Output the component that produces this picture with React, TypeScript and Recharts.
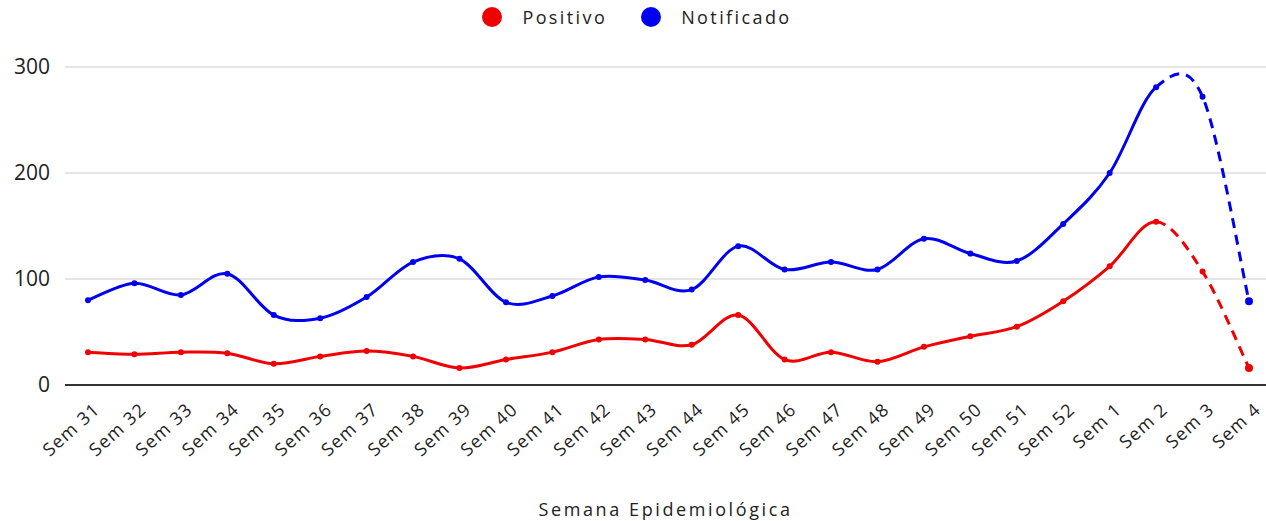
import { LineChart, Line, XAxis, YAxis, CartesianGrid, Legend } from "recharts"

// Semanas epidemiológicas (Sem 31 -> Sem 4)
const weeks = [
  "Sem 31", "Sem 32", "Sem 33", "Sem 34", "Sem 35", "Sem 36", "Sem 37", "Sem 38", "Sem 39",
  "Sem 40", "Sem 41", "Sem 42", "Sem 43", "Sem 44", "Sem 45", "Sem 46", "Sem 47", "Sem 48",
  "Sem 49", "Sem 50", "Sem 51", "Sem 52", "Sem 1", "Sem 2", "Sem 3", "Sem 4",
]
const positivo = [31, 29, 31, 30, 20, 27, 32, 27, 16, 24, 31, 43, 43, 38, 66, 24, 31, 22, 36, 46, 55, 79, 112, 154, 107, 16]
const notificado = [80, 96, 85, 105, 66, 63, 83, 116, 119, 78, 84, 102, 99, 90, 131, 109, 116, 109, 138, 124, 117, 152, 200, 281, 272, 79]
const yTicks = [0, 100, 200, 300]

// a partir desta semana a linha fica tracejada (dados incompletos)
const LAST_SOLID = weeks.indexOf("Sem 2")

const RED = "#f00000"
const BLUE = "#0000f0"
const FONT = "'Open Sans', 'Noto Sans', sans-serif"

// solid part keeps one extra point after the break, dashed part one extra before,
// those points only steer the curve tangent (like d3 catmullRomOpen)
const data = weeks.map((week, i) => ({
  week,
  positivoSolid: i <= LAST_SOLID + 1 ? positivo[i] : null,
  positivoDash: i >= LAST_SOLID - 1 ? positivo[i] : null,
  notificadoSolid: i <= LAST_SOLID + 1 ? notificado[i] : null,
  notificadoDash: i >= LAST_SOLID - 1 ? notificado[i] : null,
}))

// Catmull-Rom style curve, similar to Google Charts curveType "function"
function smoothCurve(skipStart: boolean, skipEnd: boolean) {
  return (context: any) => {
    let pts: [number, number][] = []
    return {
      areaStart() {},
      areaEnd() {},
      lineStart() {
        pts = []
      },
      lineEnd() {
        const n = pts.length
        if (!n) return
        const start = skipStart && n > 2 ? 1 : 0
        const end = skipEnd && n > 2 ? n - 2 : n - 1
        context.moveTo(pts[start][0], pts[start][1])
        for (let i = start; i < end; i++) {
          const p0 = pts[Math.max(i - 1, 0)]
          const p1 = pts[i]
          const p2 = pts[i + 1]
          const p3 = pts[Math.min(i + 2, n - 1)]
          context.bezierCurveTo(
            p1[0] + (p2[0] - p0[0]) / 6,
            p1[1] + (p2[1] - p0[1]) / 6,
            p2[0] - (p3[0] - p1[0]) / 6,
            p2[1] - (p3[1] - p1[1]) / 6,
            p2[0],
            p2[1]
          )
        }
      },
      point(x: number, y: number) {
        pts.push([+x, +y])
      },
    }
  }
}

const solidCurve = smoothCurve(false, true)
const dashCurve = smoothCurve(true, false)

const makeDot = (color: string, from: number, to: number) => (props: any) => {
  const { cx, cy, index, value } = props
  if (value == null || index < from || index > to || cx == null || cy == null) return <g key={`d-${index}`} />
  const r = index === weeks.length - 1 ? 4 : 3
  return <circle key={`d-${index}`} cx={cx} cy={cy} r={r} fill={color} stroke="none" />
}

function WeekTick({ x, y, payload }: any) {
  const ax = x + 13
  const ay = y + 24
  return (
    <text
      x={ax}
      y={ay}
      transform={`rotate(-42, ${ax}, ${ay})`}
      textAnchor="end"
      fontFamily={FONT}
      fontSize={18}
      letterSpacing={1.2}
      fill="#222"
    >
      {payload.value}
    </text>
  )
}

function LegendContent() {
  const items = [
    { name: "Positivo", color: RED },
    { name: "Notificado", color: BLUE },
  ]
  return (
    <div style={{ display: "flex", justifyContent: "center", height: 34, alignItems: "center", paddingLeft: 8 }}>
      {items.map((it, i) => (
        <div key={it.name} style={{ display: "flex", alignItems: "center", marginRight: i === 0 ? 34 : 0 }}>
          <span
            style={{ width: 20, height: 20, borderRadius: "50%", background: it.color, display: "inline-block", marginRight: 20 }}
          />
          <span style={{ fontFamily: FONT, fontSize: 18, color: "#222", letterSpacing: 2.4 }}>{it.name}</span>
        </div>
      ))}
    </div>
  )
}

export default function App() {
  document.body.style.margin = "0"
  return (
    <div style={{ width: 1266, height: 521, background: "#fff" }}>
      <LineChart width={1266} height={521} data={data} margin={{ top: 33, right: 0, left: 0, bottom: 0 }}>
        <CartesianGrid horizontal vertical={false} stroke="#cccccc" />
        <Legend verticalAlign="top" content={<LegendContent />} wrapperStyle={{ top: 0, left: 0, width: 1266 }} />
        <XAxis
          dataKey="week"
          interval={0}
          tickLine={false}
          tickSize={0}
          axisLine={{ stroke: "#333", strokeWidth: 2 }}
          padding={{ left: 23, right: 17 }}
          tick={<WeekTick />}
          height={136}
          label={{
            value: "Semana Epidemiológica",
            position: "insideBottom",
            offset: 5,
            style: { fontFamily: FONT, fontSize: 18, fill: "#222", letterSpacing: 2.6 },
          }}
        />
        <YAxis
          width={65}
          domain={[0, 300]}
          ticks={yTicks}
          axisLine={false}
          tickLine={false}
          tickSize={0}
          tickMargin={15}
          tick={{ fontFamily: FONT, fontSize: 21, fill: "#222" }}
        />
        <Line
          dataKey="positivoSolid"
          type={solidCurve as any}
          stroke={RED}
          strokeWidth={3}
          dot={makeDot(RED, 0, LAST_SOLID)}
          activeDot={false}
          isAnimationActive={false}
        />
        <Line
          dataKey="positivoDash"
          type={dashCurve as any}
          stroke={RED}
          strokeWidth={3}
          strokeDasharray="10 7"
          dot={makeDot(RED, LAST_SOLID + 1, weeks.length - 1)}
          activeDot={false}
          isAnimationActive={false}
        />
        <Line
          dataKey="notificadoSolid"
          type={solidCurve as any}
          stroke={BLUE}
          strokeWidth={3}
          dot={makeDot(BLUE, 0, LAST_SOLID)}
          activeDot={false}
          isAnimationActive={false}
        />
        <Line
          dataKey="notificadoDash"
          type={dashCurve as any}
          stroke={BLUE}
          strokeWidth={3}
          strokeDasharray="10 7"
          dot={makeDot(BLUE, LAST_SOLID + 1, weeks.length - 1)}
          activeDot={false}
          isAnimationActive={false}
        />
      </LineChart>
    </div>
  )
}
